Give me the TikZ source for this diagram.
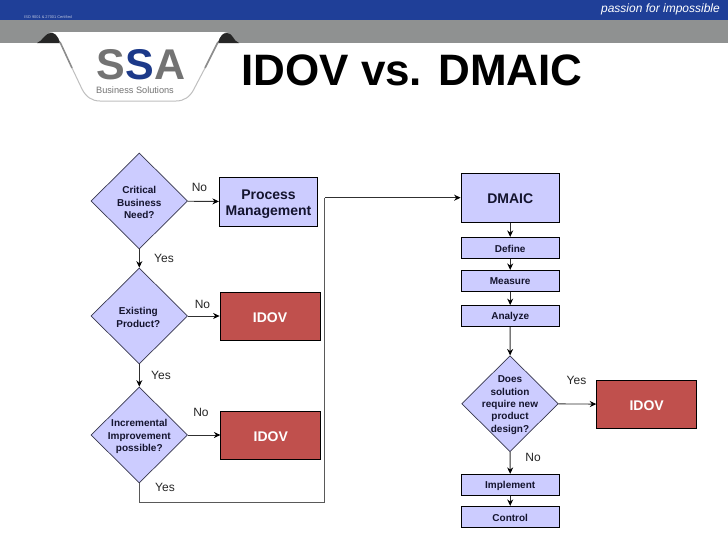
\documentclass[tikz,border=0pt]{standalone}
\usepackage{fontspec}
\setmainfont{Liberation Sans}
\usetikzlibrary{shapes.geometric,arrows.meta}
\definecolor{lav}{HTML}{CCCCFF}
\definecolor{redbox}{HTML}{C0504D}
\definecolor{topblue}{HTML}{1F3F98}
\definecolor{band}{HTML}{8F9191}
\definecolor{ink}{HTML}{14142E}
\definecolor{wire}{HTML}{303030}
\newcommand{\px}[2]{\fontsize{#1}{#2}\selectfont}
\tikzset{
  box/.style={draw=black,line width=0.8pt,inner sep=0pt},
  lavbox/.style={box,fill=lav,minimum width=98.4pt},
  redb/.style={box,fill=redbox,minimum width=100pt,minimum height=48pt},
  boxtext/.style={align=center,text=ink,font=\bfseries\px{10}{12},inner sep=0pt,yshift=-0.8pt},
  bigtext/.style={align=center,text=ink,font=\bfseries\px{14}{16.7},inner sep=0pt,yshift=-1pt},
  redtext/.style={align=center,text=white,font=\bfseries\px{14}{16},inner sep=0pt,yshift=-1.3pt},
  choice/.style={diamond,aspect=1,draw=ink!85,line width=0.7pt,fill=lav,inner sep=0pt,minimum width=96.6pt,minimum height=96pt},
  choicetext/.style={align=center,text=ink,font=\bfseries\px{10}{12.4},inner sep=0pt,yshift=-1.5pt},
  wirearrow/.style={draw=wire,line width=0.9pt,-{Stealth[length=6.5pt,width=6pt,black]}},
  wireplain/.style={draw=wire!80,line width=0.9pt},
  tag/.style={text=black!85,font=\px{12}{14},inner sep=0pt},
}
\begin{document}
\begin{tikzpicture}[x=1pt,y=-1pt]
\useasboundingbox (0,0) rectangle (728,546);
\fill[white] (0,0) rectangle (728,546);
% header
\fill[topblue] (0,0) rectangle (728,20);
\fill[band] (0,20) rectangle (728,43);
\node[text=white,font=\itshape\px{12}{14},anchor=east,inner sep=0pt] (slogan) at (720,9) {passion for impossible};
\node[text=white!70!topblue,font=\px{3.9}{4},anchor=west,inner sep=0pt] (iso) at (24,17) {ISO 9001 \& 27001 Certified};
% logo tab
\fill[black!85] (37,43) .. controls (43,41) and (44,33) .. (52,33) .. controls (57,33) and (59,38) .. (61,43) -- cycle;
\fill[black!85] (216,43) .. controls (218,38) and (222,33) .. (227,33) .. controls (233,33) and (233,41) .. (239,43) -- cycle;
\fill[white] (49,32) .. controls (55,32) and (58,36) .. (60,42) -- (82,89) .. controls (86,97) and (92,101) .. (100,101) -- (176,101) .. controls (184,101) and (190,97) .. (194,89) -- (218,42) .. controls (220,36) and (223,32) .. (228,32) -- cycle;
\draw[black!45,line width=1.6pt] (60,42) -- (72,68);
\draw[black!25,line width=1pt] (72,68) -- (82,89) .. controls (86,97) and (92,101) .. (100,101) -- (176,101) .. controls (184,101) and (190,97) .. (194,89) -- (205,68);
\draw[black!45,line width=1.6pt] (205,68) -- (218,42);
\node[font=\bfseries\px{43}{43},inner sep=0pt] (logo) at (141,65) {\textcolor{black!55}{S}\textcolor{topblue!90!black}{S}\textcolor{black!55}{A}};
\node[text=black!55,font=\px{9.2}{10},inner sep=0pt] (biz) at (135,90.5) {Business Solutions};
% title
\node[text=black,font=\bfseries\px{44}{46},inner sep=0pt] (title) at (412,70) {IDOV vs. DMAIC};
% left column
\node[choice,label={[choicetext]center:Critical\\Business\\Need?}] (d1) at (139.3,201) {};
\node[choice,label={[choicetext,xshift=-1pt]center:Existing\\Product?}] (d2) at (139.3,316) {};
\node[choice,label={[choicetext]center:Incremental\\Improvement\\possible?}] (d3) at (139.3,435) {};
\node[lavbox,minimum height=48.7pt,label={[bigtext,yshift=-1.5pt]center:Process\\Management}] (pm) at (268.5,201.7) {};
\node[redb,label={[redtext]center:IDOV}] (i1) at (270,316) {};
\node[redb,label={[redtext]center:IDOV}] (i2) at (270.8,435) {};
% right column
\node[lavbox,minimum height=49.3pt,label={[bigtext]center:DMAIC}] (dmaic) at (510.2,197.7) {};
\node[lavbox,minimum height=21pt,label={[boxtext]center:Define}] (def) at (510.2,247.8) {};
\node[lavbox,minimum height=21pt,label={[boxtext]center:Measure}] (mea) at (510.2,280.8) {};
\node[lavbox,minimum height=21pt,label={[boxtext]center:Analyze}] (ana) at (510.2,316) {};
\node[choice,label={[choicetext]center:Does\\solution\\require new\\product\\design?}] (d4) at (510,403.7) {};
\node[redb,label={[redtext]center:IDOV}] (i3) at (646.7,404.3) {};
\node[lavbox,minimum height=21pt,label={[boxtext]center:Implement}] (imp) at (510.2,484.8) {};
\node[lavbox,minimum height=21pt,label={[boxtext]center:Control}] (ctl) at (510.2,516.8) {};
% connectors
\draw[wirearrow] (d1) -- (d2);
\draw[wirearrow] (d2) -- (d3);
\draw[wirearrow] (d1) -- (pm);
\draw[wirearrow] (d2) -- (i1);
\draw[wirearrow] (d3) -- (i2);
\coordinate (c1) at (324.5,502);
\draw[wireplain] (d3.south) |- (c1) -- (c1 |- dmaic.west);
\draw[wirearrow] (c1 |- dmaic.west) -- (dmaic.west);
\draw[wirearrow] (dmaic) -- (def);
\draw[wirearrow] (def) -- (mea);
\draw[wirearrow] (mea) -- (ana);
\draw[wirearrow] (ana) -- (d4);
\draw[wirearrow] (d4) -- (i3);
\draw[wirearrow] (d4) -- (imp);
\draw[wirearrow] (imp) -- (ctl);
% branch labels
\node[tag] (t1) at (199.5,187) {No};
\node[tag] (t2) at (164,258) {Yes};
\node[tag] (t3) at (202.5,304) {No};
\node[tag] (t4) at (161,375) {Yes};
\node[tag] (t5) at (201,412) {No};
\node[tag] (t6) at (165,487) {Yes};
\node[tag] (t7) at (576.5,380) {Yes};
\node[tag] (t8) at (533,457) {No};
\end{tikzpicture}
\end{document}
